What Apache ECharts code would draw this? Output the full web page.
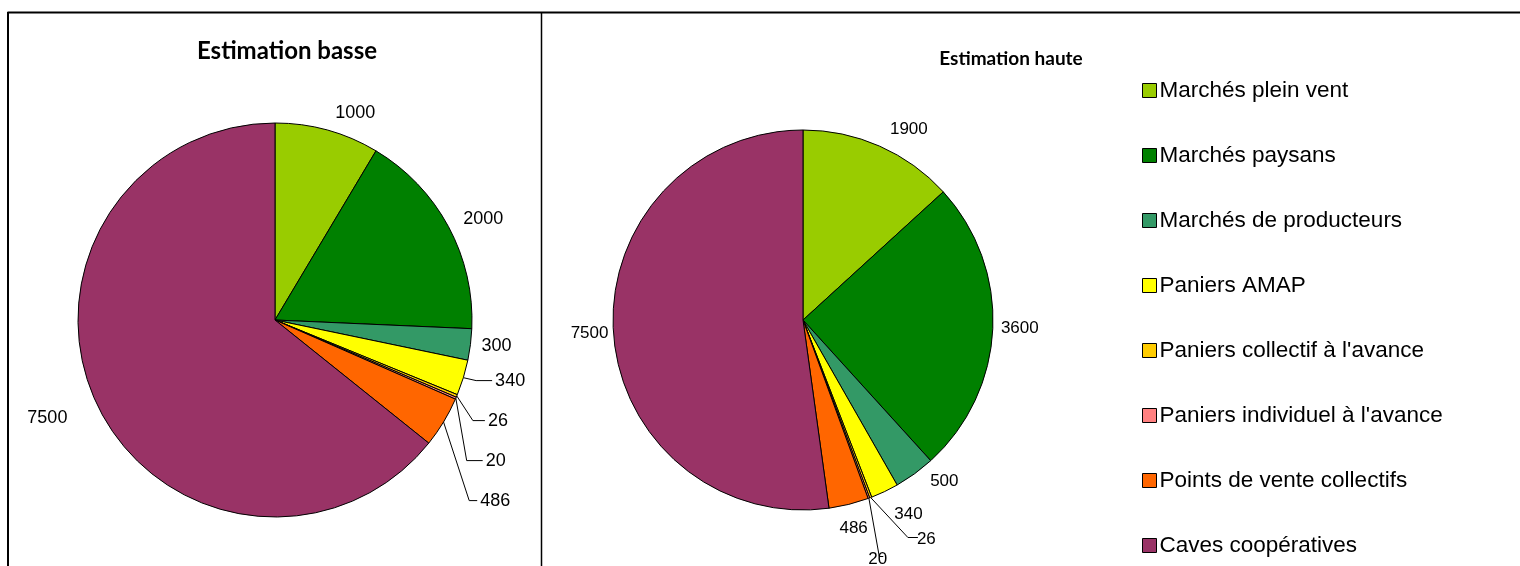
<!DOCTYPE html>
<html>
<head>
<meta charset="utf-8">
<script src="https://cdn.jsdelivr.net/npm/echarts@6/dist/echarts.min.js"></script>
<style>
html,body{margin:0;padding:0;background:#fff;}
#chart{width:1520px;height:566px;}
</style>
</head>
<body>
<div id="chart"></div>
<script>
const categories = ["Marchés plein vent","Marchés paysans","Marchés de producteurs","Paniers AMAP","Paniers collectif à l'avance","Paniers individuel à l'avance","Points de vente collectifs","Caves coopératives"];
const basseValues = [1000, 2000, 300, 340, 26, 20, 486, 7500];
const hauteValues = [1900, 3600, 500, 340, 26, 20, 486, 7500];
const colors = ['#99CC00','#008000','#339966','#FFFF00','#FFCC00','#FF8080','#FF6600','#993366'];
const titles = ['Estimation basse','Estimation haute'];

// label line settings per slice (styling only)
const basseLines = [
  {show:false,length:18,length2:0,lh:0},
  {show:false,length:16,length2:0,lh:0},
  {show:false,length:10,length2:0,lh:0},
  {show:true,length:10,length2:16,lh:38},
  {show:true,length:12,length2:12,lh:38},
  {show:true,length:14,length2:16,lh:38},
  {show:true,length:30,length2:8,lh:38},
  {show:false,length:30,length2:0,lh:0}
];
const hauteLines = [
  {show:false,length:18,length2:0,lh:0},
  {show:false,length:8,length2:0,lh:0},
  {show:false,length:8,length2:0,lh:0},
  {show:false,length:10,length2:0,lh:0},
  {show:true,length:20,length2:10,lh:0},
  {show:true,length:30,length2:4,lh:0},
  {show:false,length:10,length2:0,lh:0},
  {show:false,length:2,length2:0,lh:0}
];
// extra label nudges for the right pie (dx, dy), styling only
const hauteShift = {2:[-27,2],3:[-50,15],6:[-88,10],5:[-18,3],4:[-4,2]};

function buildData(vals, lines, fs){
  return vals.map((v,i)=>{
    const lab = {fontSize:fs};
    if (lines[i].lh) lab.lineHeight = lines[i].lh;
    return {
      name: categories[i],
      value: v,
      itemStyle:{color:colors[i]},
      labelLine:{show:lines[i].show,length:lines[i].length,length2:lines[i].length2,lineStyle:{color:'#000',width:1}},
      label:lab
    };
  });
}

const chart = echarts.init(document.getElementById('chart'), null, {renderer:'canvas'});
const option = {
  backgroundColor:'#fff',
  animation:false,
  title:[
    {text:titles[0],left:282,top:34,textAlign:'center',textStyle:{fontFamily:'Lato',fontWeight:'bold',fontSize:24,color:'#000'}},
    {text:titles[1],left:1006,top:44,textAlign:'center',textStyle:{fontFamily:'Lato',fontWeight:'bold',fontSize:19,color:'#000'}}
  ],
  legend:{
    orient:'vertical',left:1137,top:74,height:700,itemWidth:14,itemHeight:14,itemGap:42,
    icon:'rect',
    data:categories,
    itemStyle:{borderColor:'#000',borderWidth:1},
    textStyle:{fontFamily:'Liberation Sans',fontSize:22.5,color:'#000',padding:[0,0,0,-2]},
    selectedMode:false
  },
  graphic:[
    {type:'line',shape:{x1:7.5,y1:12.5,x2:1520,y2:12.5},style:{stroke:'#000',lineWidth:2}},
    {type:'line',shape:{x1:8,y1:12,x2:8,y2:566},style:{stroke:'#000',lineWidth:2}},
    {type:'line',shape:{x1:541.5,y1:12,x2:541.5,y2:566},style:{stroke:'#000',lineWidth:1.5}}
  ],
  series:[
    {
      type:'pie',center:[275,320],radius:197,startAngle:90,clockwise:true,
      avoidLabelOverlap:true,
      itemStyle:{borderColor:'#000',borderWidth:1},
      label:{show:true,position:'outside',formatter:'{c}',fontFamily:'Liberation Sans',color:'#000',distanceToLabelLine:3},
      emphasis:{disabled:true},
      data:buildData(basseValues,basseLines,18)
    },
    {
      type:'pie',center:[803,320],radius:190,startAngle:90,clockwise:true,
      avoidLabelOverlap:true,
      itemStyle:{borderColor:'#000',borderWidth:1},
      label:{show:true,position:'outside',formatter:'{c}',fontFamily:'Liberation Sans',color:'#000',distanceToLabelLine:3},
      labelLayout:function(p){
        const s = hauteShift[p.dataIndex];
        return s ? {dx:s[0],dy:s[1]} : {};
      },
      emphasis:{disabled:true},
      data:buildData(hauteValues,hauteLines,17)
    }
  ]
};
chart.setOption(option);
</script>
</body>
</html>
